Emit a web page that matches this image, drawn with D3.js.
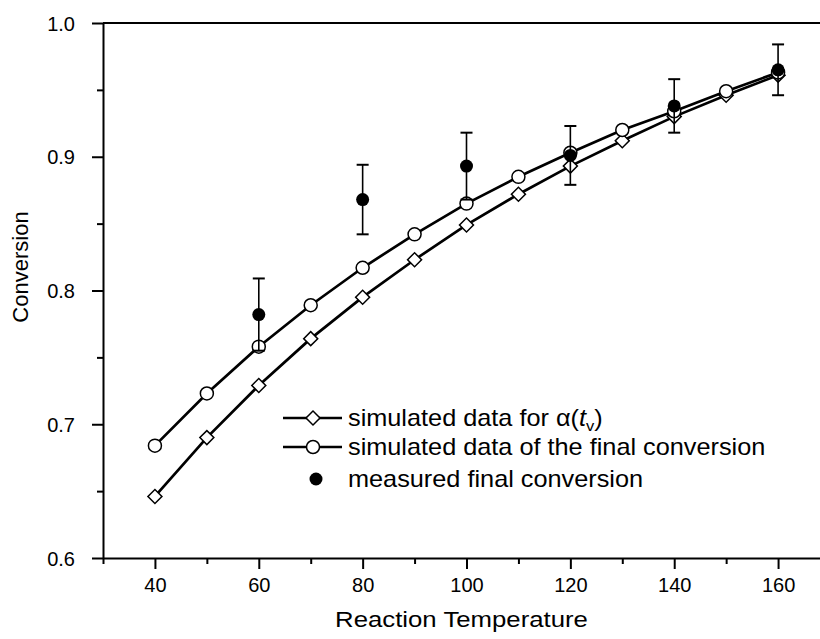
<!DOCTYPE html>
<html>
<head>
<meta charset="utf-8">
<script src="https://cdn.jsdelivr.net/npm/d3@7"></script>
<style>
  body { margin: 0; background: #fff; }
  svg { display: block; }
  text { font-family: "Liberation Sans", Arial, sans-serif; fill: #000; }
</style>
</head>
<body>
<svg width="820" height="639"></svg>
<script>
// reaction temperatures
var temps = [40, 50, 60, 70, 80, 90, 100, 110, 120, 130, 140, 150, 160];
// simulated alpha(t_v)
var alphaTv = [0.646, 0.690, 0.729, 0.764, 0.795, 0.823, 0.849, 0.872, 0.893, 0.912, 0.930, 0.946, 0.961];
// simulated final conversion
var finalSim = [0.684, 0.723, 0.758, 0.789, 0.817, 0.842, 0.865, 0.885, 0.903, 0.920, 0.934, 0.949, 0.963];
// measured final conversion with error
var measTemps = [60, 80, 100, 120, 140, 160];
var measVals = [0.782, 0.868, 0.893, 0.901, 0.938, 0.965];
var measErr = [0.027, 0.026, 0.025, 0.022, 0.020, 0.019];

var xTicks = [40, 60, 80, 100, 120, 140, 160];
var xMinor = [30, 50, 70, 90, 110, 130, 150, 170];
var yTicks = [0.6, 0.7, 0.8, 0.9, 1.0];
var yMinor = [0.65, 0.75, 0.85, 0.95];

var legendLabels = ["simulated data of the final conversion", "measured final conversion"];

var svg = d3.select("svg");
var pLeft = 103, pTop = 23, pBottom = 558, pRight = 830;

var x = d3.scaleLinear().domain([30, 170]).range([pLeft, pRight]);
var y = d3.scaleLinear().domain([0.6, 1.0]).range([pBottom, pTop]);

// top frame line
svg.append("line")
  .attr("x1", pLeft).attr("x2", pRight)
  .attr("y1", pTop).attr("y2", pTop)
  .attr("stroke", "#000").attr("stroke-width", 2);

// minor ticks first
var xm = svg.append("g").attr("transform", "translate(0," + pBottom + ")")
  .call(d3.axisBottom(x).tickValues(xMinor).tickSize(6).tickFormat(""));
xm.select(".domain").remove();
var ym = svg.append("g").attr("transform", "translate(" + pLeft + ",0)")
  .call(d3.axisLeft(y).tickValues(yMinor).tickSize(6).tickFormat(""));
ym.select(".domain").remove();

var xAxis = svg.append("g").attr("transform", "translate(0," + pBottom + ")")
  .call(d3.axisBottom(x).tickValues(xTicks).tickSize(11).tickPadding(9).tickSizeOuter(0));
var yAxis = svg.append("g").attr("transform", "translate(" + pLeft + ",0)")
  .call(d3.axisLeft(y).tickValues(yTicks).tickSize(11).tickPadding(17).tickFormat(d3.format(".1f")).tickSizeOuter(0));

svg.selectAll(".domain").attr("stroke-width", 2);
svg.selectAll(".tick line").attr("stroke-width", 2);
svg.selectAll(".tick text").style("font-size", "20px").style("font-family", "Liberation Sans, Arial, sans-serif");
yAxis.selectAll(".tick text").attr("dy", "0.36em");

// axis titles
svg.append("text")
  .attr("transform", "translate(" + ((pLeft + 820) / 2) + ",627) scale(1.12,1)")
  .attr("text-anchor", "middle")
  .style("font-size", "23px")
  .text("Reaction Temperature");

svg.append("text")
  .attr("transform", "translate(28,267) rotate(-90)")
  .attr("text-anchor", "middle")
  .style("font-size", "22px")
  .text("Conversion");

var line = d3.line().x(function(d){ return x(d[0]); }).y(function(d){ return y(d[1]); });
var diamond = d3.symbol().type(d3.symbolSquare).size(98);

var aData = temps.map(function(t, i){ return [t, alphaTv[i]]; });
var fData = temps.map(function(t, i){ return [t, finalSim[i]]; });

svg.append("path").datum(aData).attr("d", line)
  .attr("fill", "none").attr("stroke", "#000").attr("stroke-width", 2.7);
svg.selectAll(".dia").data(aData).enter().append("path")
  .attr("class", "dia")
  .attr("d", diamond)
  .attr("transform", function(d){ return "translate(" + x(d[0]) + "," + y(d[1]) + ") rotate(45)"; })
  .attr("fill", "#fff").attr("stroke", "#000").attr("stroke-width", 1.5);

svg.append("path").datum(fData).attr("d", line)
  .attr("fill", "none").attr("stroke", "#000").attr("stroke-width", 2.7);
svg.selectAll(".circ").data(fData).enter().append("circle")
  .attr("class", "circ")
  .attr("cx", function(d){ return x(d[0]); })
  .attr("cy", function(d){ return y(d[1]); })
  .attr("r", 6.5)
  .attr("fill", "#fff").attr("stroke", "#000").attr("stroke-width", 1.5);

// measured points with error bars
var meas = svg.selectAll(".meas").data(measTemps).enter().append("g").attr("class", "meas");
meas.append("circle")
  .attr("cx", function(d){ return x(d); })
  .attr("cy", function(d, i){ return y(measVals[i]); })
  .attr("r", 6.5).attr("fill", "#000");
meas.append("line")
  .attr("x1", function(d){ return x(d); }).attr("x2", function(d){ return x(d); })
  .attr("y1", function(d, i){ return y(measVals[i] + measErr[i]); })
  .attr("y2", function(d, i){ return y(measVals[i] - measErr[i]); })
  .attr("stroke", "#000").attr("stroke-width", 1.6);
[1, -1].forEach(function(s){
  meas.append("line")
    .attr("x1", function(d){ return x(d) - 6; }).attr("x2", function(d){ return x(d) + 6; })
    .attr("y1", function(d, i){ return y(measVals[i] + s * measErr[i]); })
    .attr("y2", function(d, i){ return y(measVals[i] + s * measErr[i]); })
    .attr("stroke", "#000").attr("stroke-width", 2);
});

// legend
var lg = svg.append("g");
var rows = [418, 447, 479];
var lx1 = 283, lx2 = 342, lmid = 313, tx = 348;
[0, 1].forEach(function(i){
  lg.append("line").attr("x1", lx1).attr("x2", lx2).attr("y1", rows[i]).attr("y2", rows[i])
    .attr("stroke", "#000").attr("stroke-width", 2.7);
});
lg.append("path").attr("d", diamond)
  .attr("transform", "translate(" + lmid + "," + rows[0] + ") rotate(45)")
  .attr("fill", "#fff").attr("stroke", "#000").attr("stroke-width", 1.5);
lg.append("circle").attr("cx", lmid).attr("cy", rows[1]).attr("r", 6.5)
  .attr("fill", "#fff").attr("stroke", "#000").attr("stroke-width", 1.5);
lg.append("circle").attr("cx", 316).attr("cy", rows[2]).attr("r", 6.5).attr("fill", "#000");

function legendText(row){
  return lg.append("text")
    .attr("transform", "translate(" + tx + "," + row + ") scale(1.1,1)")
    .attr("dy", "0.36em").style("font-size", "23px");
}
var t0 = legendText(rows[0]);
t0.append("tspan").text("simulated data for \u03b1(");
t0.append("tspan").style("font-style", "italic").text("t");
t0.append("tspan").attr("dy", "5").style("font-size", "15px").text("v");
t0.append("tspan").attr("dy", "-5").text(")");
legendText(rows[1]).text(legendLabels[0]);
legendText(rows[2]).text(legendLabels[1]);
</script>
</body>
</html>
